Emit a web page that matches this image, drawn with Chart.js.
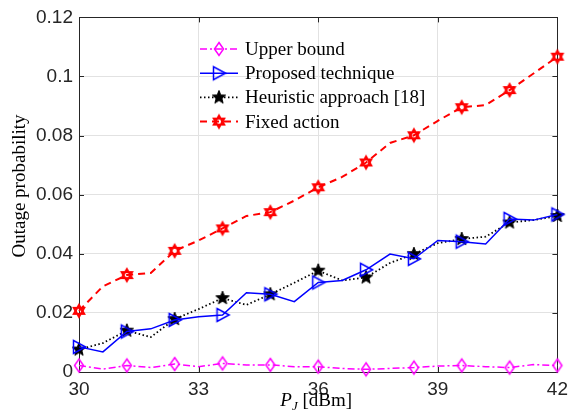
<!DOCTYPE html>
<html lang="en">
<head>
<meta charset="UTF-8">
<title>Outage probability vs P_J</title>
<script src="https://cdn.jsdelivr.net/npm/chart.js"></script>
<style>
    body { margin: 0; background: #fff; }
    #wrap { width: 574px; height: 418px; }
</style>
</head>
<body>
<div id="wrap"><canvas id="outageChart" width="574" height="418"></canvas></div>
<script>
// P_J [dBm] samples (markers on every other one)
const powerDbm = [30, 30.6, 31.2, 31.8, 32.4, 33, 33.6, 34.2, 34.8, 35.4, 36, 36.6, 37.2, 37.8, 38.4, 39, 39.6, 40.2, 40.8, 41.4, 42];

const upperBound = [0.0022, 0.0010, 0.0022, 0.0015, 0.0027, 0.0018, 0.0029, 0.0024, 0.0024, 0.0018, 0.0018,
    0.0012, 0.0009, 0.0012, 0.0015, 0.0020, 0.0022, 0.0018, 0.0015, 0.0025, 0.0022];
const proposed = [0.0085, 0.0068, 0.0137, 0.0146, 0.0176, 0.0187, 0.0193, 0.0268, 0.0263, 0.0238, 0.0303,
    0.0310, 0.0346, 0.0399, 0.0383, 0.0445, 0.0441, 0.0433, 0.0518, 0.0514, 0.0533];
const heuristic = [0.0076, 0.0098, 0.0140, 0.0118, 0.0179, 0.0213, 0.0250, 0.0227, 0.0263, 0.0302, 0.0343,
    0.0310, 0.0320, 0.0369, 0.0399, 0.0436, 0.0450, 0.0458, 0.0506, 0.0514, 0.0528];
const fixedAction = [0.0207, 0.0290, 0.0328, 0.0335, 0.0410, 0.0445, 0.0486, 0.0528, 0.0541, 0.0580, 0.0625,
    0.0660, 0.0709, 0.0775, 0.0801, 0.0850, 0.0896, 0.0903, 0.0954, 0.1010, 0.1067];

const seriesNames = ['Upper bound', 'Proposed technique', 'Heuristic approach [18]', 'Fixed action'];
const xTicks = [30, 33, 36, 39, 42];
const yTicks = [0, 0.02, 0.04, 0.06, 0.08, 0.1, 0.12];
const yTickLabels = ['0', '0.02', '0.04', '0.06', '0.08', '0.1', '0.12'];

const SERIF = '"Liberation Serif", "Times New Roman", serif';
const SANS = '"Liberation Sans", Arial, sans-serif';

// little canvases used as point styles
function makeMarker(draw) {
    const c = document.createElement('canvas');
    c.width = 20; c.height = 20;
    const g = c.getContext('2d');
    g.translate(10, 10);
    draw(g);
    return c;
}

const diamond = makeMarker(g => {
    g.strokeStyle = '#ff00ff'; g.lineWidth = 1.5;
    g.beginPath();
    g.moveTo(0, -6.5); g.lineTo(4.5, 0); g.lineTo(0, 6.5); g.lineTo(-4.5, 0);
    g.closePath(); g.stroke();
});

const triRight = makeMarker(g => {
    g.strokeStyle = '#0000ff'; g.lineWidth = 1.5;
    g.beginPath();
    g.moveTo(6.5, 0); g.lineTo(-5.5, -6.5); g.lineTo(-5.5, 6.5);
    g.closePath(); g.stroke();
});

const star = makeMarker(g => {
    g.beginPath();
    for (let i = 0; i < 10; i++) {
        const r = i % 2 === 0 ? 7 : 3;
        const a = -Math.PI / 2 + i * Math.PI / 5;
        g.lineTo(r * Math.cos(a), r * Math.sin(a));
    }
    g.closePath();
    g.fillStyle = '#000'; g.fill();
    g.strokeStyle = '#000'; g.lineWidth = 1; g.stroke();
});

const hexagram = makeMarker(g => {
    g.strokeStyle = '#ff0000'; g.lineWidth = 2;
    [-Math.PI / 2, Math.PI / 2].forEach(start => {
        g.beginPath();
        for (let i = 0; i < 3; i++) {
            const a = start + i * 2 * Math.PI / 3;
            g.lineTo(6 * Math.cos(a), 6 * Math.sin(a));
        }
        g.closePath(); g.stroke();
    });
});

const everyOther = ctx => ctx.dataIndex % 2 === 0 ? 6 : 0;

function series(label, values, color, dash, width, marker) {
    return {
        label: label,
        data: values,
        borderColor: color,
        backgroundColor: color,
        borderWidth: width,
        borderDash: dash,
        pointStyle: marker,
        pointRadius: everyOther,
        pointHoverRadius: everyOther,
        tension: 0,
        clip: false
    };
}

const datasets = [
    series(seriesNames[0], upperBound, '#ff00ff', [7, 3, 2, 3], 1.5, diamond),
    series(seriesNames[1], proposed, '#0000ff', [], 1.5, triRight),
    series(seriesNames[2], heuristic, '#000000', [1.5, 2.5], 1.8, star),
    series(seriesNames[3], fixedAction, '#ff0000', [7, 5], 2, hexagram)
];

// box, inward ticks, titles and the in-plot legend
const decorations = {
    id: 'decorations',
    beforeDatasetsDraw(chart) {
        const { ctx, chartArea: a, scales: { x, y } } = chart;
        ctx.save();
        ctx.strokeStyle = '#262626';
        ctx.lineWidth = 1;
        ctx.strokeRect(Math.round(a.left) + 0.5, Math.round(a.top) + 0.5,
            Math.round(a.right) - Math.round(a.left), Math.round(a.bottom) - Math.round(a.top));
        ctx.beginPath();
        xTicks.forEach(v => {
            const px = Math.round(x.getPixelForValue(v)) + 0.5;
            ctx.moveTo(px, a.bottom); ctx.lineTo(px, a.bottom - 5);
            ctx.moveTo(px, a.top); ctx.lineTo(px, a.top + 5);
        });
        yTicks.forEach(v => {
            const py = Math.round(y.getPixelForValue(v)) + 0.5;
            ctx.moveTo(a.left, py); ctx.lineTo(a.left + 5, py);
            ctx.moveTo(a.right, py); ctx.lineTo(a.right - 5, py);
        });
        ctx.stroke();
        ctx.restore();
    },
    afterDatasetsDraw(chart) {
        const { ctx, chartArea: a } = chart;
        ctx.save();

        // legend
        ctx.font = '19px ' + SERIF;
        ctx.textBaseline = 'middle';
        ctx.textAlign = 'left';
        chart.data.datasets.forEach((ds, i) => {
            const cy = 49 + i * 24.2;
            ctx.save();
            ctx.strokeStyle = ds.borderColor;
            ctx.lineWidth = ds.borderWidth;
            ctx.setLineDash(ds.borderDash);
            ctx.beginPath();
            ctx.moveTo(200, cy); ctx.lineTo(238, cy);
            ctx.stroke();
            ctx.restore();
            ctx.drawImage(ds.pointStyle, 219 - 10, cy - 10);
            ctx.fillStyle = '#000';
            ctx.fillText(ds.label, 245, cy + 1);
        });

        // y title
        ctx.save();
        ctx.translate(20, 186);
        ctx.rotate(-Math.PI / 2);
        ctx.textAlign = 'center';
        ctx.textBaseline = 'middle';
        ctx.fillText('Outage probability', 0, 0);
        ctx.restore();

        // x title: P_J [dBm]
        const baseY = 406;
        const parts = [
            { t: 'P', font: 'italic 19px ' + SERIF, dy: 0 },
            { t: 'J', font: 'italic 13px ' + SERIF, dy: 4 },
            { t: ' [dBm]', font: '19px ' + SERIF, dy: 0 }
        ];
        let total = 0;
        parts.forEach(p => { ctx.font = p.font; p.w = ctx.measureText(p.t).width; total += p.w; });
        let cx = (a.left + a.right) / 2 - total / 2 - 2;
        ctx.textAlign = 'left';
        ctx.textBaseline = 'alphabetic';
        parts.forEach(p => {
            ctx.font = p.font;
            ctx.fillText(p.t, cx, baseY + p.dy);
            cx += p.w;
        });
        ctx.restore();
    }
};

new Chart(document.getElementById('outageChart'), {
    type: 'line',
    data: { labels: powerDbm, datasets: datasets },
    options: {
        responsive: false,
        animation: false,
        events: [],
        layout: { padding: { left: 0, right: 16, top: 13, bottom: 0 } },
        plugins: { legend: { display: false }, tooltip: { enabled: false } },
        scales: {
            x: {
                type: 'linear',
                min: 30,
                max: 42,
                afterBuildTicks: s => { s.ticks = xTicks.map(v => ({ value: v })); },
                afterFit: s => { s.height = 46; },
                grid: { color: '#e2e2e2', drawTicks: false },
                border: { display: false },
                ticks: {
                    padding: 6,
                    maxRotation: 0,
                    color: '#262626',
                    font: { family: SANS, size: 19 },
                    callback: v => String(v)
                }
            },
            y: {
                min: 0,
                max: 0.12,
                afterBuildTicks: s => { s.ticks = yTicks.map(v => ({ value: v })); },
                afterFit: s => { s.width = 79; },
                grid: { color: '#e2e2e2', drawTicks: false },
                border: { display: false },
                ticks: {
                    padding: 6,
                    color: '#262626',
                    font: { family: SANS, size: 19 },
                    callback: (v, i) => yTickLabels[i]
                }
            }
        }
    },
    plugins: [decorations]
});
</script>
</body>
</html>
